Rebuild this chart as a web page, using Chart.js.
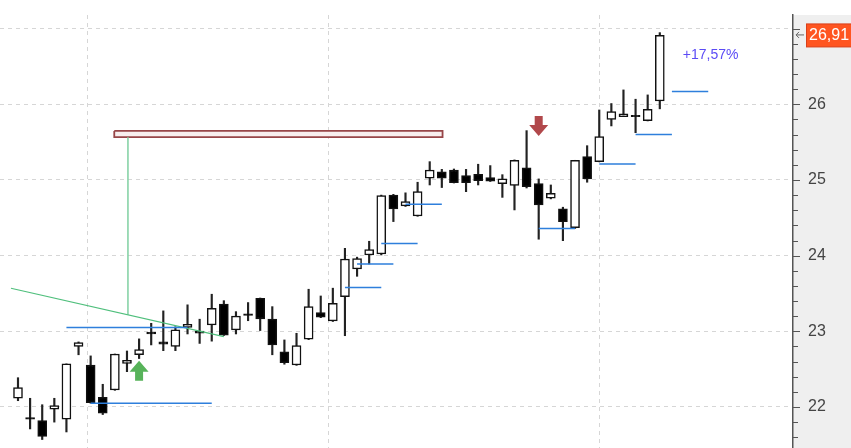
<!DOCTYPE html>
<html><head><meta charset="utf-8">
<script src="https://cdn.jsdelivr.net/npm/chart.js@4.4.1/dist/chart.umd.min.js"></script>
<style>html,body{margin:0;padding:0;background:#fff;}#wrap{width:851px;height:448px;position:relative;}</style>
</head><body><div id="wrap"><canvas id="c" width="851" height="448"></canvas></div>
<script>
// ---- data ----
const openP  = [22.115,21.855,21.82,21.97,21.84,22.80,22.555,22.128,22.225,22.577,22.69,22.987,22.86,22.80,23.053,23.004,23.084,23.36,23.018,23.23,23.437,23.16,22.73,22.555,22.895,23.246,23.137,23.458,23.824,24.009,24.022,24.80,24.657,24.524,25.023,25.106,25.132,25.057,25.076,25.031,24.951,24.929,25.159,24.951,24.758,24.617,24.37,25.308,25.242,25.80,25.837,25.84,25.784,26.044];
const highP  = [22.387,22.115,22.03,22.115,22.57,22.86,22.675,22.30,22.70,22.74,22.90,23.106,23.27,23.06,23.35,23.16,23.49,23.405,23.26,23.38,23.44,23.326,22.886,22.974,23.556,23.467,23.57,24.097,23.98,24.19,24.80,24.81,24.83,24.97,25.242,25.14,25.145,25.14,25.208,25.19,25.07,25.265,25.652,25.014,24.934,24.64,25.26,25.453,25.925,26.01,26.19,26.067,26.124,26.947];
const lowP   = [22.083,21.71,21.57,21.80,21.67,22.69,22.05,21.90,22.22,22.467,22.64,22.82,22.744,22.744,22.965,22.84,22.87,22.945,22.965,23.14,23.01,22.69,22.565,22.55,22.89,23.18,23.13,22.942,23.727,23.89,24.009,24.45,24.65,24.52,24.934,24.90,24.96,24.845,24.934,24.98,24.77,24.604,24.894,24.217,24.75,24.198,24.36,24.97,25.24,25.714,25.837,25.625,25.78,25.94];
const closeP = [22.255,21.84,21.61,22.02,22.57,22.85,22.057,21.917,22.70,22.617,22.757,22.965,22.83,23.02,23.093,22.974,23.305,22.95,23.20,23.21,23.163,22.82,22.585,22.81,23.326,23.186,23.37,23.956,23.96,24.08,24.793,24.617,24.714,24.845,25.132,25.023,24.965,24.965,24.99,24.983,25.014,25.26,24.912,24.67,24.824,24.45,25.26,25.014,25.573,25.903,25.873,25.835,25.935,26.91];

const yTicks = [22,23,24,25,26,27];
const xGrid = [5.78,25.63,48.05];

const levelStart = [4,6,27,28,30,32,43,48,51,54];
const levelEnd   = [14,16,30,31,33,35,46,51,54,57];
const levelValue = [23.05,22.05,23.58,23.89,24.16,24.68,24.36,25.21,25.60,26.17];

const zoneX = [7.95,35.06];
const zoneY = [25.565,25.648];
const stemX = [9.08,9.08];
const stemY = [25.565,23.218];
const trendX = [-0.58,17.0];
const trendY = [23.569,22.929];

const buyIdx = [10], buyTop = [22.612], buyBottom = [22.348];
const sellIdx = [43], sellTop = [25.846], sellBottom = [25.582];

const lastLabel = '26,91';
const changeLabel = '+17,57%';
const changeX = 54.9, changeY = 26.65;

// ---- build datasets ----
const idx = openP.map((_, i) => i);
const bodies = idx.map(i => ({x: i, y: [openP[i], closeP[i]]}));
const wicks = idx.map(i => ({x: i, y: [lowP[i], highP[i]]}));
const levels = [];
levelStart.forEach((s, k) => {
  levels.push({x: s, y: levelValue[k]});
  levels.push({x: levelEnd[k], y: levelValue[k]});
  levels.push({x: levelEnd[k], y: null});
});
const zone = [
  {x: zoneX[0], y: zoneY[1]}, {x: zoneX[1], y: zoneY[1]},
  {x: zoneX[1], y: zoneY[0]}, {x: zoneX[0], y: zoneY[0]}, {x: zoneX[0], y: zoneY[1]}
];
const stem = stemX.map((x, k) => ({x, y: stemY[k]}));
const trend = trendX.map((x, k) => ({x, y: trendY[k]}));
const lastClose = closeP[closeP.length - 1];

const FONT = "'Liberation Sans', Arial, sans-serif";

const deco = {
  id: 'deco',
  beforeDraw(chart) {
    const {ctx, chartArea: a} = chart;
    ctx.save();
    ctx.fillStyle = '#efefef';
    ctx.fillRect(a.right, a.top, chart.width - a.right, chart.height - a.top);
    ctx.restore();
  },
  afterDraw(chart) {
    const {ctx, chartArea: a} = chart;
    const xs = chart.scales.x, ys = chart.scales.y;
    ctx.save();
    // minor / major ticks on the price axis
    ctx.strokeStyle = '#555';
    ctx.lineWidth = 1;
    for (let k = 107; k <= 136; k++) {
      const v = k / 5;
      const y = Math.round(ys.getPixelForValue(v)) + 0.5;
      if (y < a.top || y > a.bottom) continue;
      const len = (k % 5 === 0) ? 7 : 5;
      ctx.beginPath(); ctx.moveTo(a.right, y); ctx.lineTo(a.right + len, y); ctx.stroke();
    }
    // arrows
    function arrow(i, top, bottom, up, color) {
      const cx = xs.getPixelForValue(i);
      const yt = ys.getPixelForValue(top), yb = ys.getPixelForValue(bottom);
      const h = yb - yt, head = h * 0.55, hw = 9.5, sw = 4;
      ctx.fillStyle = color;
      ctx.beginPath();
      if (up) {
        ctx.moveTo(cx, yt); ctx.lineTo(cx + hw, yt + head); ctx.lineTo(cx + sw, yt + head);
        ctx.lineTo(cx + sw, yb); ctx.lineTo(cx - sw, yb); ctx.lineTo(cx - sw, yt + head);
        ctx.lineTo(cx - hw, yt + head);
      } else {
        ctx.moveTo(cx, yb); ctx.lineTo(cx + hw, yb - head); ctx.lineTo(cx + sw, yb - head);
        ctx.lineTo(cx + sw, yt); ctx.lineTo(cx - sw, yt); ctx.lineTo(cx - sw, yb - head);
        ctx.lineTo(cx - hw, yb - head);
      }
      ctx.closePath(); ctx.fill();
    }
    buyIdx.forEach((i, k) => arrow(i, buyTop[k], buyBottom[k], true, '#57b35a'));
    sellIdx.forEach((i, k) => arrow(i, sellTop[k], sellBottom[k], false, '#b1484b'));
    // change text
    ctx.fillStyle = '#5b4bf5';
    ctx.font = '14px ' + FONT;
    ctx.textBaseline = 'middle';
    ctx.textAlign = 'left';
    ctx.fillText(changeLabel, xs.getPixelForValue(changeX), ys.getPixelForValue(changeY));
    // last price label
    const yc = ys.getPixelForValue(lastClose);
    ctx.fillStyle = '#ff5520';
    ctx.fillRect(806.5, yc - 11.5, 45, 23);
    ctx.strokeStyle = '#d8401a';
    ctx.lineWidth = 1;
    ctx.strokeRect(806.5, yc - 11.5, 45, 23);
    ctx.fillStyle = '#ffffff';
    ctx.font = '16px ' + FONT;
    ctx.fillText(lastLabel, 809, yc + 0.5);
    // small arrow pointer
    ctx.strokeStyle = '#666';
    ctx.lineWidth = 1;
    ctx.beginPath();
    ctx.moveTo(804, yc - 0.5); ctx.lineTo(796, yc - 0.5);
    ctx.moveTo(799, yc - 3.5); ctx.lineTo(796, yc - 0.5); ctx.lineTo(799, yc + 2.5);
    ctx.stroke();
    ctx.restore();
  }
};

new Chart(document.getElementById('c'), {
  type: 'bar',
  data: {
    datasets: [
      {
        type: 'line', data: levels, order: -2, borderColor: '#2e7fdc', borderWidth: 1.5,
        pointRadius: 0, spanGaps: false, tension: 0
      },
      {
        type: 'line', data: trend, order: -1, borderColor: '#4fbf7c', borderWidth: 1.2,
        pointRadius: 0, tension: 0
      },
      {
        type: 'bar', data: bodies, order: 0, grouped: false, barThickness: 9,
        minBarLength: 1.5,
        backgroundColor: ctx => {
          const i = ctx.dataIndex;
          return closeP[i] >= openP[i] ? '#ffffff' : '#000000';
        },
        borderColor: '#111', borderWidth: 1.5, borderSkipped: false
      },
      {
        type: 'bar', data: wicks, order: 1, grouped: false, barThickness: 1.5,
        backgroundColor: '#222', borderWidth: 0
      },
      {
        type: 'line', data: stem, order: 2, borderColor: '#80d0a2', borderWidth: 1.5,
        pointRadius: 0, tension: 0
      },
      {
        type: 'line', data: zone, order: 3, borderColor: '#974648', borderWidth: 1.8,
        backgroundColor: '#f8eeee', fill: 'shape', pointRadius: 0, tension: 0
      }
    ]
  },
  options: {
    responsive: false,
    animation: false,
    devicePixelRatio: 1,
    layout: {autoPadding: false, padding: {top: 15, left: 0, right: 0, bottom: 0}},
    plugins: {legend: {display: false}, tooltip: {enabled: false}},
    scales: {
      x: {
        type: 'linear', min: -1.486, max: 64, offset: false,
        afterBuildTicks: s => { s.ticks = xGrid.map(v => ({value: v})); },
        afterFit: s => { s.height = 0; s.paddingLeft = 0; s.paddingRight = 0; },
        grid: {color: '#d6d6d6', lineWidth: 1, drawTicks: false, offset: false},
        border: {display: false, dash: [4, 4]},
        ticks: {display: false}
      },
      y: {
        type: 'linear', position: 'right', min: 21.458, max: 27.18, beginAtZero: false,
        afterBuildTicks: s => { s.ticks = yTicks.map(v => ({value: v})); },
        afterFit: s => { s.width = 58; s.paddingTop = 0; s.paddingBottom = 0; },
        grid: {color: '#d6d6d6', lineWidth: 1, drawTicks: false},
        border: {display: true, color: '#555', width: 1.5, dash: [4, 4]},
        ticks: {
          padding: 15, color: '#444', font: {family: FONT, size: 16},
          callback: v => (Math.abs(v - lastClose) < 0.3 ? '' : String(Math.round(v)))
        }
      }
    }
  },
  plugins: [deco]
});
</script>
</body></html>
